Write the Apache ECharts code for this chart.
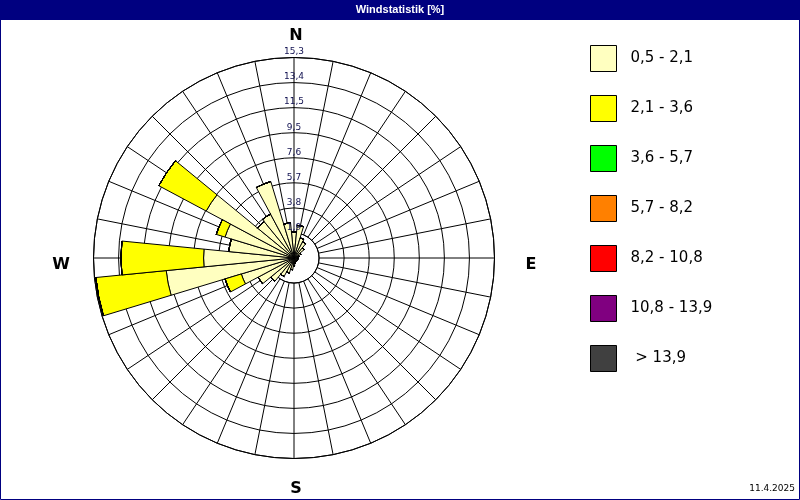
<!DOCTYPE html>
<html>
<head>
<meta charset="utf-8">
<script src="https://cdn.jsdelivr.net/npm/echarts@6/dist/echarts.min.js"></script>
<style>
html,body{margin:0;padding:0;background:#fff;}
#c{width:800px;height:500px;}
</style>
</head>
<body>
<div id="c"></div>
<script>
// ---- data ----
const directions = ['N','NzO','NNO','NOzN','NO','NOzO','ONO','OzN','O','OzS','OSO','SOzO','SO','SOzS','SSO','SzO',
                    'S','SzW','SSW','SWzS','SW','SWzW','WSW','WzS','W','WzN','WNW','NWzW','NW','NWzN','NNW','NzW'];
const speedClasses = ['0,5 - 2,1','2,1 - 3,6','3,6 - 5,7','5,7 - 8,2','8,2 - 10,8','10,8 - 13,9',' > 13,9'];
const classColors = ['#ffffc0','#ffff00','#00ff00','#ff8000','#ff0000','#800080','#404040'];
const freq_05_21  = [2.0,2.5,1.6,1.4,1.0,0.6,0.4,0.3,0.3,0.3,0.3,0.3,0.3,0.3,0.3,0.4,
                     0.6,0.9,1.2,1.6,2.3,3.1,4.2,9.8,6.9,5.0,5.5,7.6,3.6,3.8,6.1,2.7];
const freq_21_36  = [0,0,0,0,0,0,0,0,0,0,0,0,0,0,0,0,
                     0,0,0,0,0,0,1.3,5.4,6.3,0,0.7,4.1,0,0,0,0];
const freq_36_57  = [0,0,0,0,0,0,0,0,0,0,0,0,0,0,0,0,0,0,0,0,0,0,0,0,0,0,0,0,0,0,0,0];
const freq_57_82  = [0,0,0,0,0,0,0,0,0,0,0,0,0,0,0,0,0,0,0,0,0,0,0,0,0,0,0,0,0,0,0,0];
const freq_82_108 = [0,0,0,0,0,0,0,0,0,0,0,0,0,0,0,0,0,0,0,0,0,0,0,0,0,0,0,0,0,0,0,0];
const freq_108_139= [0,0,0,0,0,0,0,0,0,0,0,0,0,0,0,0,0,0,0,0,0,0,0,0,0,0,0,0,0,0,0,0];
const freq_gt139  = [0,0,0,0,0,0,0,0,0,0,0,0,0,0,0,0,0,0,0,0,0,0,0,0,0,0,0,0,0,0,0,0];
const ringLabels = ['1,9','3,8','5,7','7,6','9,5','11,5','13,4','15,3'];
const ringStep = 1.9125;
const radiusMax = 15.3;
const compass = ['N','E','S','W'];
const dateText = '11.4.2025';
const titleText = 'Windstatistik [%]';

const seriesData = [freq_05_21, freq_21_36, freq_36_57, freq_57_82, freq_82_108, freq_108_139, freq_gt139];

// ---- layout ----
const C = [294, 258];
const R = 200.5;
const sector = 360 / directions.length;

const chart = echarts.init(document.getElementById('c'), null, {renderer:'canvas'});

const series = speedClasses.map((name, k) => ({
  name: name,
  type: 'bar',
  coordinateSystem: 'polar',
  polarIndex: 1,
  stack: 'wind',
  barCategoryGap: '0%',
  data: seriesData[k],
  itemStyle: {color: classColors[k], borderColor: '#000', borderWidth: 1},
  emphasis: {disabled: true},
  z: 3
}));

const hiddenAxis = {axisLine:{show:false}, axisTick:{show:false}, axisLabel:{show:false}, splitLine:{show:false}};

const option = {
  animation: false,
  backgroundColor: '#ffffff',
  graphic: [
    {type:'rect', shape:{x:0, y:0, width:800, height:20}, style:{fill:'#000080'}, z:0, silent:true},
    {type:'rect', shape:{x:0.5, y:0.5, width:799, height:499}, style:{fill:null, stroke:'#000080', lineWidth:1}, z:0, silent:true},
    {type:'text', x:400, y:10, style:{text:titleText, fill:'#fff', font:'bold 11px "Liberation Sans", sans-serif', textAlign:'center', textVerticalAlign:'middle'}, z:10},
    {type:'text', x:296, y:36, style:{text:compass[0], fill:'#000', font:'bold 16px "DejaVu Sans", sans-serif', textAlign:'center', textVerticalAlign:'middle'}, z:10},
    {type:'text', x:531, y:265, style:{text:compass[1], fill:'#000', font:'bold 16px "DejaVu Sans", sans-serif', textAlign:'center', textVerticalAlign:'middle'}, z:10},
    {type:'text', x:296, y:489, style:{text:compass[2], fill:'#000', font:'bold 16px "DejaVu Sans", sans-serif', textAlign:'center', textVerticalAlign:'middle'}, z:10},
    {type:'text', x:61, y:265, style:{text:compass[3], fill:'#000', font:'bold 16px "DejaVu Sans", sans-serif', textAlign:'center', textVerticalAlign:'middle'}, z:10},
    {type:'text', x:795, y:489, style:{text:dateText, fill:'#000', font:'9px "DejaVu Sans", sans-serif', textAlign:'right', textVerticalAlign:'middle'}, z:10}
  ],
  polar: [
    {center: C, radius: [R / 8, R]},
    {center: C, radius: [0, R]},
    {center: C, radius: [R / 8, R]}
  ],
  angleAxis: [
    {polarIndex:0, type:'value', min:0, max:360, interval:sector, startAngle:90, clockwise:true,
     axisLine:{show:true, lineStyle:{color:'#000', width:1}},
     axisTick:{show:false}, axisLabel:{show:false},
     splitLine:{show:true, lineStyle:{color:'#000', width:1}}, z:0},
    Object.assign({polarIndex:1, type:'category', data:directions, startAngle:90 + sector / 2, clockwise:true, boundaryGap:true}, hiddenAxis),
    Object.assign({polarIndex:2, type:'value', min:0, max:360, startAngle:90, clockwise:true}, hiddenAxis)
  ],
  radiusAxis: [
    Object.assign({polarIndex:0, type:'value', min:ringStep, max:radiusMax, interval:ringStep, z:0}, hiddenAxis,
      {splitLine:{show:true, lineStyle:{color:'#000', width:1}}}),
    Object.assign({polarIndex:1, type:'value', min:0, max:radiusMax}, hiddenAxis),
    Object.assign({polarIndex:2, type:'value', min:ringStep, max:radiusMax, interval:ringStep, z:10}, hiddenAxis,
      {axisLabel:{show:true, margin:0, align:'center', verticalAlign:'bottom', color:'#101050',
       fontSize:9, fontFamily:'"DejaVu Sans", sans-serif', padding:[0,0,1,0],
       formatter: v => ringLabels[Math.round(v / ringStep) - 1] || ''}})
  ],
  legend: {
    orient:'vertical', left:590, top:45, padding:0, itemWidth:26, itemHeight:26, itemGap:23, icon:'rect',
    data: speedClasses, selectedMode:false,
    itemStyle:{borderWidth:1, borderColor:'#000'},
    textStyle:{fontSize:15, fontFamily:'"DejaVu Sans", sans-serif', color:'#000', padding:[0,0,0,9]}
  },
  series: series
};
chart.setOption(option);
</script>
</body>
</html>
